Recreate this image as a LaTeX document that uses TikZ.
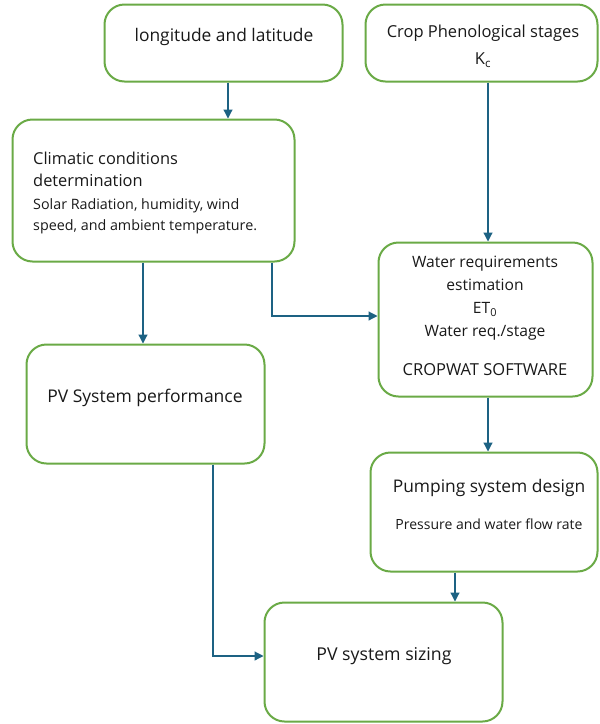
\documentclass[tikz,border=0pt]{standalone}
\usepackage{fontspec}
\setmainfont{Open Sans}
\usetikzlibrary{arrows.meta}
\definecolor{boxgreen}{HTML}{6AAA46}
\definecolor{arrblue}{HTML}{1D6283}
\begin{document}
\begin{tikzpicture}[x=1pt,y=-1pt,
  box/.style={draw=boxgreen,line width=2pt,rounded corners=20pt,fill=white,inner sep=0pt},
  txt/.style={inner sep=0pt,align=center,text=black!90},
  arr/.style={draw=arrblue,line width=1.2pt,-{Triangle[length=9pt,width=9pt]}}]
\useasboundingbox[fill=white] (0,0) rectangle (600,724);
% boxes
\node[box,minimum width=238pt,minimum height=77pt] (b1) at (223.5,43) {};
\node[box,minimum width=232pt,minimum height=77pt] (b2) at (481.5,43) {};
\node[box,minimum width=282pt,minimum height=142pt] (b3) at (153.5,190.5) {};
\node[box,minimum width=214pt,minimum height=154pt] (b4) at (485.5,319.5) {};
\node[box,minimum width=238pt,minimum height=119pt] (b5) at (145.5,404) {};
\node[box,minimum width=227pt,minimum height=119pt] (b6) at (484,512) {};
\node[box,minimum width=238pt,minimum height=119pt] (b7) at (383.5,662) {};
% texts
\node[txt,font=\fontsize{17.4}{20}\selectfont] (t1) at (224,37) {longitude and latitude};
\node[txt,font=\fontsize{16.5}{27}\selectfont] (t2) at (483,46) {Crop Phenological stages\\K\textsubscript{c}};
\node[txt,font=\fontsize{16.4}{22.5}\selectfont,align=left,anchor=north west] (t3) at (33,151.5) {Climatic conditions\\determination};
\node[txt,font=\fontsize{14.3}{21.5}\selectfont,align=left,anchor=north west] (t3b) at (33,198) {Solar Radiation, humidity, wind\\speed, and ambient temperature.};
\node[txt,font=\fontsize{15.6}{22.8}\selectfont,anchor=north] (t4) at (485,256) {Water requirements\\estimation\\ET\textsubscript{0}\\Water req./stage};
\node[txt,font=\fontsize{16.5}{18}\selectfont] (t4b) at (485,370) {CROPWAT SOFTWARE};
\node[txt,font=\fontsize{17.5}{20}\selectfont] (t5) at (145,398) {PV System performance};
\node[txt,font=\fontsize{17.4}{20}\selectfont] (t6) at (489,488) {Pumping system design};
\node[txt,font=\fontsize{14}{18}\selectfont] (t6b) at (489,524) {Pressure and water flow rate};
\node[txt,font=\fontsize{17.7}{20}\selectfont] (t7) at (384,656) {PV system sizing};
% connector guides
\coordinate (c1) at (228,0);
\coordinate (c2) at (488,0);
\coordinate (c3) at (143,0);
\coordinate (k4) at (272,316);
\coordinate (c6) at (455,0);
\coordinate (k7) at (213,656);
% connectors
\draw[arr] (b1.south -| c1) -- (b3.north -| c1);
\draw[arr] (b2.south -| c2) -- (b4.north -| c2);
\draw[arr] (b3.south -| c3) -- (b5.north -| c3);
\draw[arr] (b3.south -| k4) -- (k4) -- (b4.west |- k4);
\draw[arr] (b4.south -| c2) -- (b6.north -| c2);
\draw[arr] (b5.south -| k7) -- (k7) -- (b7.west |- k7);
\draw[arr] (b6.south -| c6) -- (b7.north -| c6);
\end{tikzpicture}
\end{document}
